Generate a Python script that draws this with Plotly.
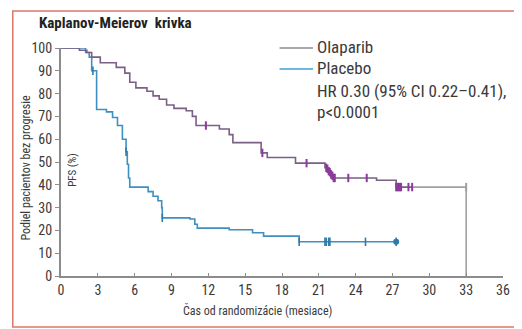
import plotly.graph_objects as go

# ---- data ----
olaparib_t = [0, 1.5, 2.1, 2.5, 3.2, 4.5, 5.2, 5.6, 6.1, 7.0, 7.5, 8.0, 8.6, 9.2, 10.2, 10.7, 11.0,
              12.9, 13.7, 14.0, 16.3, 16.8, 19.1, 21.5, 21.8, 22.0, 22.2, 25.7, 27.3, 33.0, 33.0]
olaparib_s = [100, 99, 98, 96, 93.5, 91.5, 89, 85, 82.5, 81, 79, 77.5, 75, 73.5, 72.5, 70, 66,
              64.5, 62, 58.5, 54, 52, 49.5, 47.5, 46, 44.5, 43, 42, 39, 39, 0]
olaparib_cens_t = [11.8, 16.4, 20.0, 21.6, 21.7, 21.8, 21.9, 22.0, 22.1, 22.2, 22.3, 23.4, 24.9,
                   27.3, 27.4, 27.5, 27.6, 27.7, 28.3, 28.6, 33.0]
olaparib_cens_s = [66, 54, 49.5, 47.5, 47, 46, 45.5, 44.5, 44, 43, 43, 43, 43,
                   39, 39, 39, 39, 39, 39, 39, 39]
olaparib_tail_start = 28.6

placebo_t = [0, 2.0, 2.3, 2.5, 2.9, 3.7, 4.2, 4.6, 5.0, 5.3, 5.4, 5.5, 5.6, 7.1, 7.5, 7.9, 8.2, 8.25,
             10.5, 10.9, 11.1, 13.7, 15.6, 16.5, 19.4, 27.3]
placebo_s = [100, 98, 96, 90, 73, 72, 69.5, 66, 60, 54.5, 49, 43, 39, 37, 35, 33, 30, 25.5,
             25, 22.7, 21, 20.3, 19, 17.5, 15, 15]
placebo_cens_t = [2.6, 5.3, 8.25, 19.4, 21.5, 21.6, 21.8, 21.9, 24.8, 27.3]
placebo_cens_s = [90, 54.5, 25.5, 15, 15, 15, 15, 15, 15, 15]

x_ticks = [0, 3, 6, 9, 12, 15, 18, 21, 24, 27, 30, 33, 36]
y_ticks = [0, 10, 20, 30, 40, 50, 60, 70, 80, 90, 100]

title_text = "Kaplanov-Meierov  krivka"
legend_names = ["Olaparib", "Placebo"]
hr_lines = ["HR 0.30 (95% CI 0.22–0.41),", "p<0.0001"]
y_title = "Podiel pacientov bez progresie"
y_sub_title = "PFS (%)"
x_title = "Čas od randomizácie (mesiace)"

# ---- style ----
# the page body has an 8px default margin: build the figure 8px smaller and shift coordinates
OFF = 8
W, H = 522 - OFF, 329 - OFF
L, R, T, B = 61 - OFF, 20 - OFF, 48 - OFF, 61 - OFF
PW, PH = W - L - R, H - T - B
NARROW = "Liberation Sans Narrow, Arial Narrow, Roboto Condensed, sans-serif"
TXT = "#3a3a3a"
OLA_LINE = "#7a5f86"
OLA_MARK = "#8a3b9c"
OLA_TAIL = "#a0a0a0"
PLA_LINE = "#3f8fc0"
PLA_MARK = "#2f78a8"
AX = "#8c8c8c"


def px(x):
    return (x - OFF - L) / PW


def py(y):
    return (H - B - (y - OFF)) / PH


# split olaparib into main and grey tail
n_main = len([t for t in olaparib_t if t <= olaparib_tail_start])
main_t = olaparib_t[:n_main] + [olaparib_tail_start]
main_s = olaparib_s[:n_main] + [olaparib_s[n_main - 1]]
tail_t = [olaparib_tail_start] + olaparib_t[n_main:]
tail_s = [olaparib_s[n_main - 1]] + olaparib_s[n_main:]

main_cens = [(t, s) for t, s in zip(olaparib_cens_t, olaparib_cens_s) if t <= olaparib_tail_start]
tail_cens = [(t, s) for t, s in zip(olaparib_cens_t, olaparib_cens_s) if t > olaparib_tail_start]

fig = go.Figure()
fig.add_trace(go.Scatter(x=placebo_t, y=placebo_s, mode="lines", line=dict(shape="hv", color=PLA_LINE, width=1.6),
                         name=legend_names[1], cliponaxis=False))
fig.add_trace(go.Scatter(x=placebo_cens_t, y=placebo_cens_s, mode="markers",
                         marker=dict(symbol="line-ns-open", size=6, color=PLA_MARK, line=dict(width=1.6)),
                         cliponaxis=False))
fig.add_trace(go.Scatter(x=[placebo_cens_t[-1]], y=[placebo_cens_s[-1]], mode="markers",
                         marker=dict(symbol="circle", size=6, color=PLA_MARK), cliponaxis=False))
fig.add_trace(go.Scatter(x=tail_t, y=tail_s, mode="lines", line=dict(shape="hv", color=OLA_TAIL, width=1.6),
                         cliponaxis=False))
fig.add_trace(go.Scatter(x=main_t, y=main_s, mode="lines", line=dict(shape="hv", color=OLA_LINE, width=1.6),
                         name=legend_names[0], cliponaxis=False))
fig.add_trace(go.Scatter(x=[c[0] for c in main_cens], y=[c[1] for c in main_cens], mode="markers",
                         marker=dict(symbol="line-ns-open", size=6, color=OLA_MARK, line=dict(width=2)),
                         cliponaxis=False))
fig.add_trace(go.Scatter(x=[c[0] for c in tail_cens], y=[c[1] for c in tail_cens], mode="markers",
                         marker=dict(symbol="line-ns-open", size=6, color=OLA_TAIL, line=dict(width=2)),
                         cliponaxis=False))

shapes = [
    dict(type="rect", xref="paper", yref="paper", x0=px(12), x1=px(560), y0=py(327), y1=py(11),
         line=dict(color="#d9786b", width=1.5), layer="above"),
    dict(type="line", xref="paper", yref="paper", x0=px(283), x1=px(317), y0=py(48), y1=py(48),
         line=dict(color="#555555", width=1.2)),
    dict(type="line", xref="paper", yref="paper", x0=px(283), x1=px(317), y0=py(69), y1=py(69),
         line=dict(color="#3f9fd6", width=1.5)),
]

ann = [
    dict(text="<b>" + title_text + "</b>", x=px(37), y=py(23), xanchor="left", yanchor="middle",
         font=dict(family=NARROW, size=15, color="#222")),
    dict(text=legend_names[0], x=px(319), y=py(47), xanchor="left", yanchor="middle",
         font=dict(family=NARROW, size=17, color=TXT)),
    dict(text=legend_names[1], x=px(319), y=py(68), xanchor="left", yanchor="middle",
         font=dict(family=NARROW, size=17, color=TXT)),
    dict(text=hr_lines[0], x=px(319), y=py(91), xanchor="left", yanchor="middle",
         font=dict(family=NARROW, size=17, color=TXT)),
    dict(text=hr_lines[1], x=px(319), y=py(112), xanchor="left", yanchor="middle",
         font=dict(family=NARROW, size=17, color=TXT)),
    dict(text=y_title, x=px(25), y=py(168), xanchor="center", yanchor="middle", textangle=-90,
         font=dict(family=NARROW, size=12, color=TXT)),
    dict(text=y_sub_title, x=px(72), y=py(170), xanchor="center", yanchor="middle", textangle=-90,
         font=dict(family=NARROW, size=11, color=TXT)),
    dict(text=x_title, x=px(261), y=py(310), xanchor="center", yanchor="middle",
         font=dict(family=NARROW, size=12, color=TXT)),
]
for a in ann:
    a.update(xref="paper", yref="paper", showarrow=False)

fig.update_layout(
    width=W, height=H, margin=dict(l=L, r=R, t=T, b=B, pad=0),
    paper_bgcolor="white", plot_bgcolor="white",
    shapes=shapes, annotations=ann, showlegend=False,
    xaxis=dict(range=[0, 36], tickvals=x_ticks, ticktext=[str(v) for v in x_ticks],
               showline=True, linecolor=AX, linewidth=2, ticks="inside", ticklen=3, tickcolor=AX,
               showgrid=False, zeroline=False, tickfont=dict(family=NARROW, size=14, color=TXT)),
    yaxis=dict(range=[0, 100], tickvals=y_ticks, ticktext=[str(v) for v in y_ticks],
               showline=True, linecolor=AX, linewidth=2, ticks="outside", ticklen=4, tickcolor=AX,
               showgrid=False, zeroline=False, tickfont=dict(family=NARROW, size=14, color=TXT)),
)

fig.write_html("out.html")
